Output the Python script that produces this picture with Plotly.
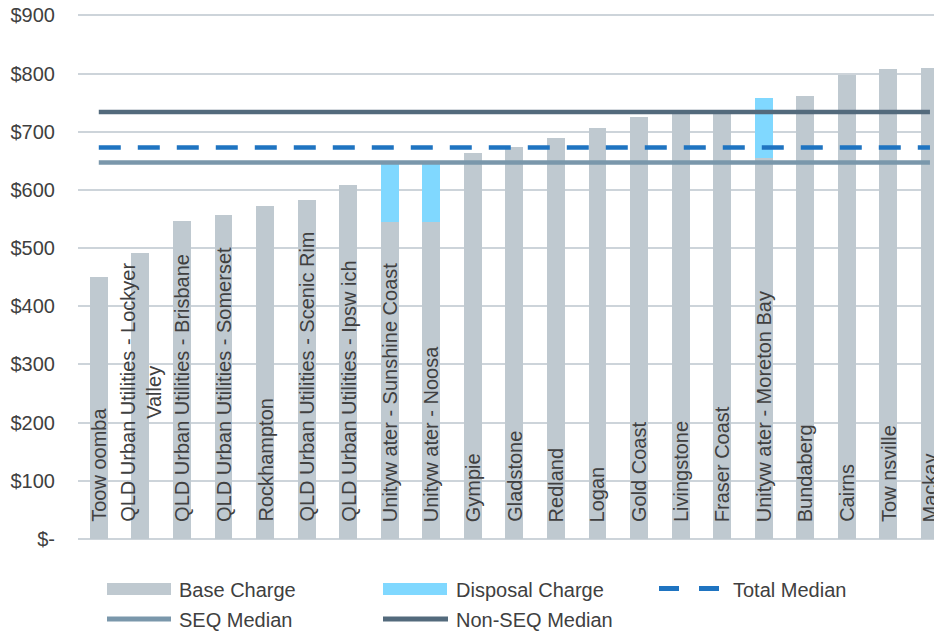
import plotly.graph_objects as go

# ---------------- data ----------------
categories = [
    "Toowoomba", "QLD Urban Utilities - Lockyer Valley", "QLD Urban Utilities - Brisbane",
    "QLD Urban Utilities - Somerset", "Rockhampton", "QLD Urban Utilities - Scenic Rim",
    "QLD Urban Utilities - Ipswich", "Unitywater - Sunshine Coast", "Unitywater - Noosa",
    "Gympie", "Gladstone", "Redland", "Logan", "Gold Coast", "Livingstone", "Fraser Coast",
    "Unitywater - Moreton Bay", "Bundaberg", "Cairns", "Townsville", "Mackay",
]
category_labels = [
    "Toow oomba", "QLD Urban Utilities - Lockyer<br>Valley", "QLD Urban Utilities - Brisbane",
    "QLD Urban Utilities - Somerset", "Rockhampton", "QLD Urban Utilities - Scenic Rim",
    "QLD Urban Utilities - Ipsw ich", "Unityw ater - Sunshine Coast", "Unityw ater - Noosa",
    "Gympie", "Gladstone", "Redland", "Logan", "Gold Coast", "Livingstone", "Fraser Coast",
    "Unityw ater - Moreton Bay", "Bundaberg", "Cairns", "Tow nsville", "Mackay",
]
base_charge = [450, 492, 547, 556, 573, 583, 609, 544, 544, 663, 674, 690, 706, 726,
               735, 737, 655, 761, 797, 807, 810]
disposal_charge = [0, 0, 0, 0, 0, 0, 0, 102, 102, 0, 0, 0, 0, 0, 0, 0, 103, 0, 0, 0, 0]
total_median = 673
seq_median = 647
non_seq_median = 734
y_tick_values = [0, 100, 200, 300, 400, 500, 600, 700, 800, 900]
y_tick_labels = ["$-", "$100", "$200", "$300", "$400", "$500", "$600", "$700", "$800", "$900"]

# ---------------- style ----------------
FONT = "Liberation Sans, Arial, sans-serif"
FS = 20
TXT = "#404040"
C_BASE = "#BFC9D0"
C_DISP = "#80D8FF"
C_TOTAL = "#1F74C1"
C_SEQ = "#7A97AB"
C_NONSEQ = "#536A7C"
GRID = "#CDD4DA"

OFF = 8  # page body margin
W, H = 942 - OFF, 631 - OFF
ML, MR, MT = 78 - OFF, 0, 13 - OFF
MB = H - (539 - OFF)
PW, PH = W - ML - MR, H - MT - MB


def px(x):  # page pixel -> paper
    return (x - OFF - ML) / PW


def py(y):
    return (H - MB - (y - OFF)) / PH


fig = go.Figure()
fig.add_trace(go.Bar(x=categories, y=base_charge, name="Base Charge",
                     marker=dict(color=C_BASE, line=dict(width=0)), width=0.43))
fig.add_trace(go.Bar(x=categories, y=disposal_charge, name="Disposal Charge",
                     marker=dict(color=C_DISP, line=dict(width=0)), width=0.43))

line_x = [categories[0], categories[-1]]
fig.add_trace(go.Scatter(x=line_x, y=[seq_median] * 2, mode="lines", name="SEQ Median",
                         line=dict(color=C_SEQ, width=4.5)))
fig.add_trace(go.Scatter(x=line_x, y=[non_seq_median] * 2, mode="lines", name="Non-SEQ Median",
                         line=dict(color=C_NONSEQ, width=4.5)))
fig.add_trace(go.Scatter(x=line_x, y=[total_median] * 2, mode="lines", name="Total Median",
                         line=dict(color=C_TOTAL, width=4.5, dash="22px,17px")))

# category labels inside bars
for cat, lab in zip(categories, category_labels):
    fig.add_annotation(x=cat, y=0, xref="x", yref="y", text=lab, textangle=-90,
                       showarrow=False, xanchor="center", yanchor="bottom", yshift=15,
                       align="center", font=dict(family=FONT, size=FS, color=TXT))

# custom legend
shapes = []
shapes.append(dict(type="rect", xref="paper", yref="paper", x0=px(107), x1=px(171),
                   y0=py(595), y1=py(583), fillcolor=C_BASE, line=dict(width=0)))
shapes.append(dict(type="rect", xref="paper", yref="paper", x0=px(383), x1=px(447),
                   y0=py(595), y1=py(583), fillcolor=C_DISP, line=dict(width=0)))
for a, b in [(659, 679), (699, 719)]:
    shapes.append(dict(type="line", xref="paper", yref="paper", x0=px(a), x1=px(b),
                       y0=py(588.5), y1=py(588.5), line=dict(color=C_TOTAL, width=5)))
shapes.append(dict(type="line", xref="paper", yref="paper", x0=px(107), x1=px(171),
                   y0=py(619), y1=py(619), line=dict(color=C_SEQ, width=5)))
shapes.append(dict(type="line", xref="paper", yref="paper", x0=px(383), x1=px(448),
                   y0=py(619), y1=py(619), line=dict(color=C_NONSEQ, width=5)))

legend_items = [("Base Charge", 177, 590), ("Disposal Charge", 454, 590),
                ("Total Median", 731, 590), ("SEQ Median", 177, 620),
                ("Non-SEQ Median", 454, 620)]
for t, x, y in legend_items:
    fig.add_annotation(x=px(x), y=py(y), xref="paper", yref="paper", text=t,
                       showarrow=False, xanchor="left", yanchor="middle",
                       font=dict(family=FONT, size=FS, color=TXT))

fig.update_layout(
    width=W, height=H,
    margin=dict(l=ML, r=MR, t=MT, b=MB, pad=0, autoexpand=False),
    paper_bgcolor="white", plot_bgcolor="white",
    barmode="stack", showlegend=False,
    shapes=shapes,
    font=dict(family=FONT, size=FS, color=TXT),
    xaxis=dict(type="category", range=[-0.5, 20.29], showticklabels=False, showgrid=False,
               zeroline=False, showline=False, ticks="", automargin=False),
    yaxis=dict(range=[0, 904], tickvals=y_tick_values, ticktext=y_tick_labels,
               showgrid=True, gridcolor=GRID, gridwidth=2, zeroline=True,
               zerolinecolor=GRID, zerolinewidth=2, showline=False, ticks="",
               ticklabelstandoff=22, ticklabeloverflow="allow", automargin=False,
               tickfont=dict(family=FONT, size=FS, color=TXT)),
)

fig.write_html("out.html")
